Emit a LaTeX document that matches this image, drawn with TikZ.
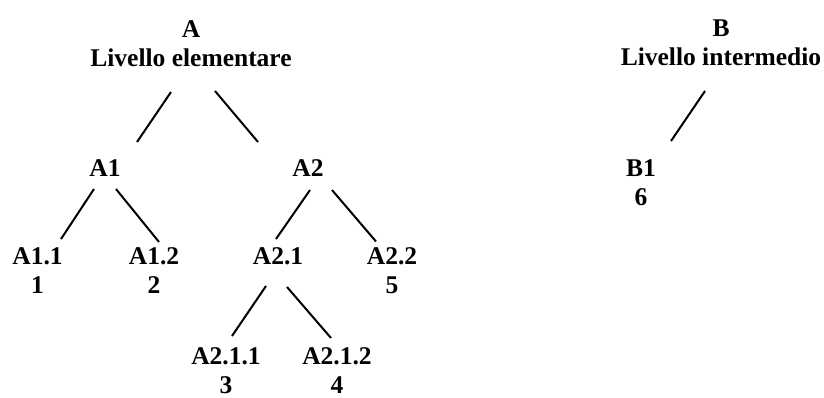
\documentclass[tikz,border=0pt]{standalone}
\usepackage{fontspec}
\setmainfont{Liberation Serif}
\usetikzlibrary{calc}
\begin{document}
\begin{tikzpicture}[x=1pt,y=-1pt,
  lbl/.style={align=center,inner sep=0pt,font=\bfseries\fontsize{25.5}{29}\selectfont},
  edge/.style={line width=2pt}]
\useasboundingbox (0,0) rectangle (824,397);
\node[lbl] (A) at (191,44) {A\\Livello elementare};
\node[lbl] (A1) at (105,168) {A1};
\node[lbl] (A2) at (308,168) {A2};
\node[lbl] (A11) at (37.5,270.5) {A1.1\\1};
\node[lbl] (A12) at (154,270.5) {A1.2\\2};
\node[lbl] (A21) at (278,256) {A2.1};
\node[lbl] (A22) at (392,270.5) {A2.2\\5};
\node[lbl] (A211) at (226,370.5) {A2.1.1\\3};
\node[lbl] (A212) at (337,370.5) {A2.1.2\\4};
\node[lbl] (B) at (721,43) {B\\Livello intermedio};
\node[lbl] (B1) at (641,182.5) {B1\\6};
\draw[edge] ($(A)+(-20,48)$) -- ($(A1)+(32,-26)$);
\draw[edge] ($(A)+(24,47)$) -- ($(A2)+(-50,-26)$);
\draw[edge] ($(A1)+(-11,21)$) -- ($(A11)+(23.5,-31.5)$);
\draw[edge] ($(A1)+(11,21)$) -- ($(A12)+(5,-28.5)$);
\draw[edge] ($(A2)+(2,22)$) -- ($(A21)+(-2,-17)$);
\draw[edge] ($(A2)+(24,22)$) -- ($(A22)+(-16,-29)$);
\draw[edge] ($(A21)+(-12,30)$) -- ($(A211)+(6,-34.5)$);
\draw[edge] ($(A21)+(9,31)$) -- ($(A212)+(-6,-32.5)$);
\draw[edge] ($(B)+(-16,48)$) -- ($(B1)+(30,-41.5)$);
\end{tikzpicture}
\end{document}
